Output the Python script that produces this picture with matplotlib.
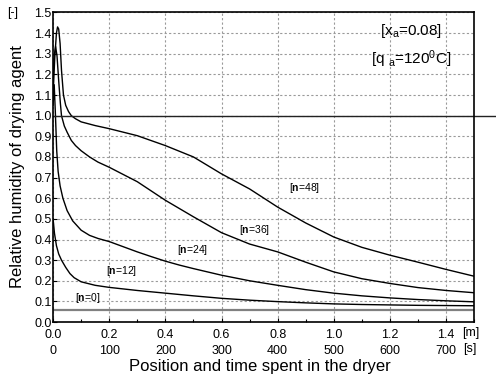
"""Relative humidity of the drying agent along the dryer, for several n."""

import matplotlib

matplotlib.use("Agg")
import matplotlib.pyplot as plt
from matplotlib.ticker import MultipleLocator

plt.rcParams["font.family"] = ["Liberation Sans", "DejaVu Sans"]
plt.rcParams["mathtext.fontset"] = "custom"
plt.rcParams["mathtext.rm"] = "Liberation Sans"
plt.rcParams["mathtext.it"] = "Liberation Sans:italic"
plt.rcParams["mathtext.bf"] = "Liberation Sans:bold"

# position along the dryer [m]; time = 500 s per metre
X_TICKS_M = [0.0, 0.2, 0.4, 0.6, 0.8, 1.0, 1.2, 1.4]
X_TICKS_S = [0, 100, 200, 300, 400, 500, 600, 700]

X_N0 = [0.0, 1.5]
PHI_N0 = [0.06, 0.06]

X_N12 = [0.0, 0.005, 0.012, 0.02, 0.03, 0.045, 0.06, 0.075, 0.1, 0.15, 0.2,
         0.3, 0.4, 0.5, 0.6, 0.7, 0.8, 0.9, 1.0, 1.1, 1.2, 1.3, 1.4, 1.5]
PHI_N12 = [0.5, 0.43, 0.37, 0.33, 0.3, 0.265, 0.235, 0.215, 0.195, 0.178, 0.168,
           0.153, 0.14, 0.127, 0.115, 0.106, 0.099, 0.093, 0.088, 0.085, 0.083,
           0.081, 0.08, 0.079]

X_N24 = [0.0, 0.004, 0.008, 0.013, 0.018, 0.025, 0.035, 0.05, 0.07, 0.1, 0.13,
         0.16, 0.2, 0.25, 0.3, 0.35, 0.4, 0.45, 0.5, 0.6, 0.7, 0.8, 0.9, 1.0,
         1.1, 1.2, 1.3, 1.4, 1.5]
PHI_N24 = [1.05, 1.15, 1.02, 0.83, 0.73, 0.66, 0.6, 0.54, 0.49, 0.445, 0.42,
           0.405, 0.39, 0.365, 0.34, 0.317, 0.295, 0.276, 0.259, 0.227, 0.2,
           0.178, 0.157, 0.14, 0.127, 0.117, 0.109, 0.103, 0.098]

X_N36 = [0.0, 0.004, 0.009, 0.014, 0.02, 0.026, 0.03, 0.04, 0.05, 0.065, 0.08,
         0.1, 0.13, 0.16, 0.2, 0.25, 0.3, 0.35, 0.4, 0.45, 0.5, 0.6, 0.7, 0.8,
         0.9, 1.0, 1.1, 1.2, 1.3, 1.4, 1.5]
PHI_N36 = [1.18, 1.29, 1.335, 1.29, 1.17, 1.06, 1.0, 0.95, 0.92, 0.88, 0.855,
           0.83, 0.8, 0.775, 0.75, 0.715, 0.68, 0.635, 0.59, 0.55, 0.51, 0.433,
           0.378, 0.34, 0.29, 0.243, 0.21, 0.187, 0.167, 0.153, 0.142]

X_N48 = [0.0, 0.006, 0.012, 0.016, 0.02, 0.025, 0.03, 0.037, 0.045, 0.055,
         0.065, 0.08, 0.1, 0.15, 0.2, 0.3, 0.4, 0.5, 0.6, 0.7, 0.8, 0.9, 1.0,
         1.1, 1.2, 1.3, 1.4, 1.5]
PHI_N48 = [1.1, 1.28, 1.4, 1.43, 1.42, 1.35, 1.22, 1.1, 1.05, 1.02, 1.0, 0.985,
           0.97, 0.952, 0.937, 0.903, 0.855, 0.8, 0.718, 0.645, 0.557, 0.48,
           0.412, 0.362, 0.324, 0.29, 0.255, 0.222]

CURVE_LABELS = ["0", "12", "24", "36", "48"]
LABEL_X = [0.123, 0.245, 0.496, 0.718, 0.895]
LABEL_Y = [0.115, 0.248, 0.348, 0.444, 0.649]

SATURATION = 1.0


fig = plt.figure(figsize=(4.96, 3.78), dpi=100)
ax = fig.add_axes([0.107, 0.148, 0.849, 0.819])

grid_style = dict(color="#9a9a9a", linewidth=0.8, linestyle=(0, (2, 2)))
ax.grid(True, which="major", **grid_style)
ax.set_axisbelow(True)

ax.plot(X_N0, PHI_N0, color="#808080", linewidth=1.6)
for xs, ys in [(X_N12, PHI_N12), (X_N24, PHI_N24), (X_N36, PHI_N36), (X_N48, PHI_N48)]:
    ax.plot(xs, ys, color="black", linewidth=1.0)

# saturation line runs on past the right frame
ax.plot([0.0, 1.7], [SATURATION, SATURATION], color="#222222", linewidth=1.0,
        clip_on=False)

for n, lx, ly in zip(CURVE_LABELS, LABEL_X, LABEL_Y):
    ax.text(lx, ly, r"[$\mathbf{n}$=" + n + "]", fontsize=7.5, ha="center",
            va="center")

ax.text(1.276, 1.41, r"[x$_\mathrm{a}$=0.08]", fontsize=11, ha="center",
        va="center")
ax.text(1.276, 1.275, r"[q $_\mathrm{a}$=120$^\mathrm{0}$C]", fontsize=11,
        ha="center", va="center")

ax.set_xlim(0.0, 1.5)
ax.set_ylim(0.0, 1.5)
ax.set_xticks(X_TICKS_M)
ax.set_xticklabels([f"{m:.1f}\n{s}" for m, s in zip(X_TICKS_M, X_TICKS_S)],
                   fontsize=9, linespacing=1.4)
ax.xaxis.set_minor_locator(MultipleLocator(0.1))
ax.yaxis.set_major_locator(MultipleLocator(0.1))
ax.yaxis.set_major_formatter(lambda v, pos: f"{v:.1f}")
ax.tick_params(axis="both", which="major", direction="in", length=3,
               labelsize=9, width=0.8)
ax.tick_params(axis="x", which="minor", direction="in", length=2, width=0.8)
ax.tick_params(axis="y", pad=1)
ax.tick_params(axis="x", pad=5)
for spine in ax.spines.values():
    spine.set_linewidth(1.2)

fig.text(471 / 496, 1 - 333 / 378, "[m]", fontsize=9, ha="center", va="center")
fig.text(470 / 496, 1 - 349 / 378, "[s]", fontsize=9, ha="center", va="center")
fig.text(13 / 496, 1 - 13 / 378, "[-]", fontsize=9, ha="center", va="center")
fig.text(18 / 496, 1 - 167 / 378, "Relative humidity of drying agent",
         fontsize=12, rotation=90, ha="center", va="center")
fig.text(260 / 496, 1 - 367 / 378, "Position and time spent in the dryer",
         fontsize=12, ha="center", va="center")

fig.savefig("out.png", dpi=100)
